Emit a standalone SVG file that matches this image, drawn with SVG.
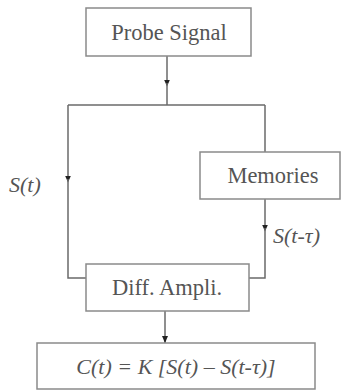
<svg xmlns="http://www.w3.org/2000/svg" width="342" height="392" viewBox="0 0 342 392">
<style>
.box{fill:#fff;stroke:#8a8a8a;stroke-width:1.5}
.ln{fill:none;stroke:#6a6a6a;stroke-width:1.5}
.t{font-family:"Liberation Serif","DejaVu Serif",serif;font-size:22.5px;fill:#555;text-anchor:middle}
.i{font-family:"Liberation Serif","DejaVu Serif",serif;font-size:22px;font-style:italic;fill:#555}
</style>
<defs>
<marker id="ah" markerWidth="7" markerHeight="7" refX="3.5" refY="3.5" orient="auto" markerUnits="userSpaceOnUse">
<path d="M0,0.5 L7,3.5 L0,6.5 Z" fill="#222"/>
</marker>
<marker id="ahEnd" markerWidth="7" markerHeight="7" refX="7" refY="3.5" orient="auto" markerUnits="userSpaceOnUse">
<path d="M0,0.5 L7,3.5 L0,6.5 Z" fill="#222"/>
</marker>
</defs>
<rect width="342" height="392" fill="#fff"/>
<g id="connectors">
<path class="ln" d="M167,56 V83" marker-end="url(#ah)"/>
<path class="ln" d="M167,83 V105"/>
<path class="ln" d="M68,105 H265"/>
<path class="ln" d="M68,105 V179" marker-end="url(#ah)"/>
<path class="ln" d="M68,179 V278 H86"/>
<path class="ln" d="M265,105 V152"/>
<path class="ln" d="M265,199 V228" marker-end="url(#ah)"/>
<path class="ln" d="M265,228 V278 H249"/>
<path class="ln" d="M165,311 V343" marker-end="url(#ahEnd)"/>
</g>
<g id="probe">
<rect class="box" x="86" y="8" width="165" height="48"/>
<text class="t" x="169" y="40">Probe Signal</text>
</g>
<g id="memories">
<rect class="box" x="200" y="152" width="140" height="47"/>
<text class="t" x="273" y="183">Memories</text>
</g>
<g id="diff">
<rect class="box" x="86" y="264" width="163" height="47"/>
<text class="t" x="167" y="295">Diff. Ampli.</text>
</g>
<g id="output">
<rect class="box" x="37" y="343" width="278" height="46"/>
<text class="i" x="176" y="374" text-anchor="middle">C(t) = K [S(t) – S(t-τ)]</text>
</g>
<g id="labels">
<text class="i" x="9" y="192">S(t)</text>
<text class="i" x="273" y="243">S(t-τ)</text>
</g>
</svg>
